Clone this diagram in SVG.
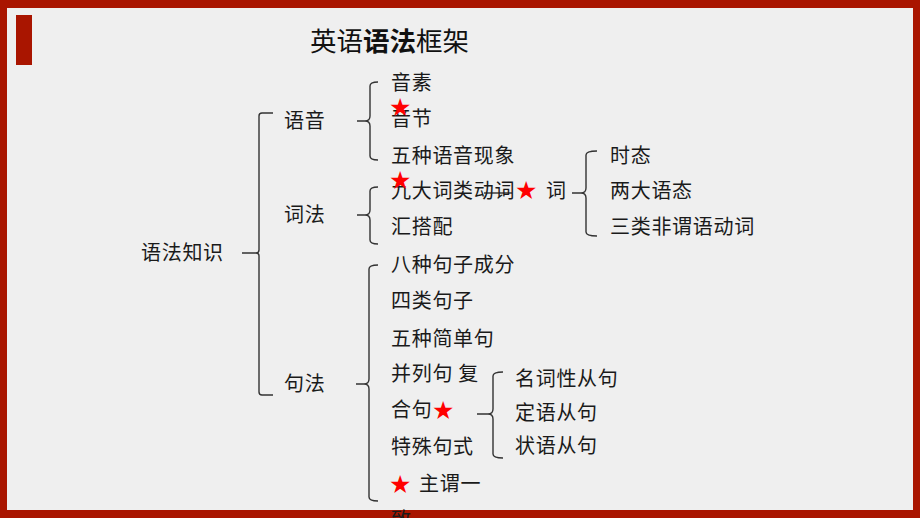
<svg xmlns="http://www.w3.org/2000/svg" width="920" height="518" viewBox="0 0 920 518">
<style>
.t{font-family:"Noto Sans CJK SC","Noto Sans",sans-serif;font-size:20px;fill:#1a1a1a;letter-spacing:0.7px}
.s{font-family:"DejaVu Sans","Noto Sans CJK SC",sans-serif;font-size:25px;fill:#ff0000}
.b{fill:none;stroke:#333;stroke-width:1.4}
.title{font-family:"Noto Sans CJK SC","Noto Sans",sans-serif;font-size:26.5px;fill:#111}
</style>
<rect x="0" y="0" width="920" height="518" fill="#A91500"/>
<rect x="7" y="8" width="906" height="502" fill="#EFEFEF"/>
<rect x="16" y="15" width="16" height="50" fill="#A91500"/>
<text class="title" x="310" y="51">英语<tspan font-weight="bold">语法</tspan>框架</text>
<g id="connectors">
<path class="b" d="M273,113 H262 Q259,113 259,116 V250 Q259,253 256,253 H242 M256,253 Q259,253 259,256 V392 Q259,395 262,395 H273"/>
<path class="b" d="M378,82 Q370,82 370,86 V116 Q370,121 365,121 H357 M365,121 Q370,121 370,126 V156 Q370,160 378,160"/>
<path class="b" d="M378,187 Q370,187 370,191 V210 Q370,215 365,215 H357 M365,215 Q370,215 370,220 V240 Q370,244 378,244"/>
<path class="b" d="M597,151 Q586,151 586,155 V188 Q586,193 581,193 H572 M581,193 Q586,193 586,198 V232 Q586,236 597,236"/>
<path class="b" d="M378,265 Q369,265 369,269 V379 Q369,384 364,384 H356 M364,384 Q369,384 369,389 V497 Q369,501 378,501"/>
<path class="b" d="M503,372 Q493,372 493,376 V409 Q493,414 488,414 H477 M488,414 Q493,414 493,419 V454 Q493,458 503,458"/>
<path class="b" d="M484,193 H512"/>
</g>
<g id="root"><text class="t" x="141" y="260">语法知识</text></g>
<g id="yuyin"><text class="t" x="284" y="128">语音</text></g>
<g id="cifa"><text class="t" x="284" y="222">词法</text></g>
<g id="jufa"><text class="t" x="284" y="391">句法</text></g>
<g id="yinsu"><text class="t" x="391" y="90">音素</text></g>
<g id="yinjie"><text class="t" x="391" y="126">音节</text><text class="s" x="389" y="116">★</text></g>
<g id="wuzhong"><text class="t" x="391" y="163">五种语音现象</text></g>
<g id="jiuda"><text class="t" x="391" y="198">九大词类动词</text><text class="s" x="389" y="189">★</text><text class="s" x="515" y="199">★</text><text class="t" x="546" y="198">词</text></g>
<g id="huida"><text class="t" x="391" y="234">汇搭配</text></g>
<g id="shitai"><text class="t" x="610" y="163">时态</text></g>
<g id="liangda"><text class="t" x="610" y="198">两大语态</text></g>
<g id="sanlei"><text class="t" x="610" y="234">三类非谓语动词</text></g>
<g id="bazhong"><text class="t" x="391" y="272">八种句子成分</text></g>
<g id="silei"><text class="t" x="391" y="308">四类句子</text></g>
<g id="wuzhongjian"><text class="t" x="391" y="346">五种简单句</text></g>
<g id="binglie"><text class="t" x="391" y="381">并列句 复</text><text class="t" x="391" y="417">合句</text><text class="s" x="432" y="419">★</text></g>
<g id="teshu"><text class="t" x="391" y="454">特殊句式</text></g>
<g id="zhuwei"><text class="s" x="389" y="493">★</text><text class="t" x="419" y="491">主谓一</text><text class="t" x="391" y="527">致</text></g>
<g id="mingci"><text class="t" x="515" y="386">名词性从句</text></g>
<g id="dingyu"><text class="t" x="515" y="420">定语从句</text></g>
<g id="zhuangyu"><text class="t" x="515" y="453">状语从句</text></g>
</svg>
